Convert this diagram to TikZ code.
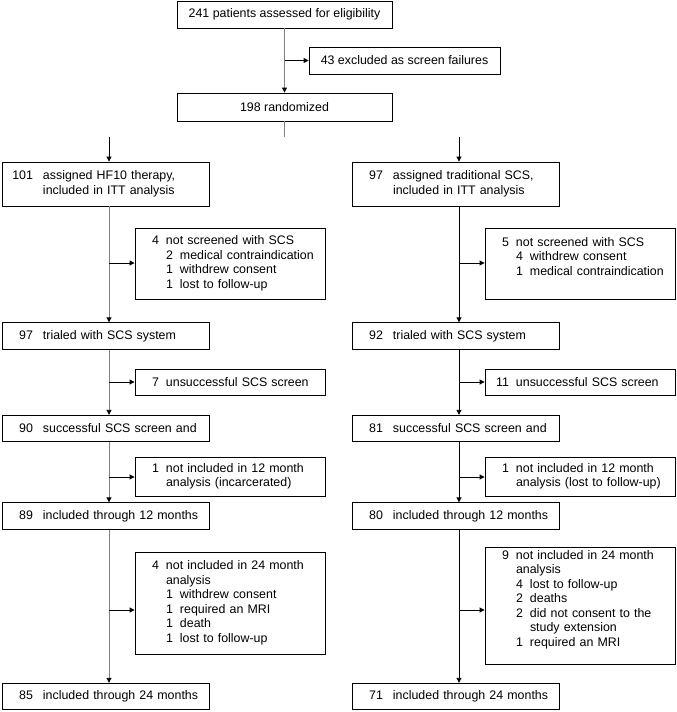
\documentclass[tikz,border=0pt]{standalone}
\usepackage{fontspec}
\setmainfont{Liberation Sans}
\usetikzlibrary{arrows.meta}
\definecolor{spinegray}{gray}{0.5}
\newcommand{\fsz}{\fontsize{12.4}{14.5}\selectfont}
\newcommand{\mnum}[1]{\makebox[26pt][r]{#1}\hspace{10pt}}
\newcommand{\snum}[1]{\makebox[19pt][r]{#1}\hspace{7pt}}
\newcommand{\sitm}[1]{\hspace*{26pt}\makebox[7pt][r]{#1}\hspace{7pt}}
\tikzset{
  box/.style={draw, line width=0.9pt, inner ysep=0pt, font=\fsz},
  cbox/.style={box, inner xsep=0pt, align=center},
  mainbox/.style={box, inner xsep=5pt, text width=197pt, align=left, minimum height=26.5pt},
  sidebox/.style={box, inner xsep=5pt, text width=180pt, align=left},
  arr/.style={line width=0.9pt, -{Triangle[length=5pt,width=5pt,color=black]}},
  gline/.style={line width=0.9pt, draw=spinegray},
  bline/.style={line width=0.9pt}
}
\begin{document}
\begin{tikzpicture}[x=1pt,y=-1pt]
\useasboundingbox (0,0) rectangle (677,712);
% top
\node[cbox, minimum width=215pt, minimum height=27pt] (A) at (284.5,14.5) {241 patients assessed for eligibility};
\node[cbox, minimum width=191pt, minimum height=27pt] (E) at (404.5,60.5) {43 excluded as screen failures};
\node[cbox, minimum width=215pt, minimum height=28pt] (R) at (284.5,107) {198 randomized};
\coordinate (stub) at (284.5,137);
\coordinate (sL) at (109,137);
\coordinate (sR) at (459,137);
% left column
\node[mainbox, minimum height=44pt] (L1) at (105.5,184) {\mnum{101}assigned HF10 therapy,\\\hspace*{36pt}included in ITT analysis};
\node[mainbox] (L2) at (105.5,336) {\mnum{97}trialed with SCS system};
\node[mainbox] (L3) at (105.5,428.5) {\mnum{90}successful SCS screen and};
\node[mainbox] (L4) at (105.5,516) {\mnum{89}included through 12 months};
\node[mainbox] (L5) at (105.5,696.5) {\mnum{85}included through 24 months};
\node[sidebox, minimum height=71pt] (LX1) at (230,263.5) {\snum{4}not screened with SCS\\\sitm{2}medical contraindication\\\sitm{1}withdrew consent\\\sitm{1}lost to follow-up};
\node[sidebox, minimum height=26pt] (LX2) at (230,382) {\snum{7}unsuccessful SCS screen};
\node[sidebox, minimum height=39pt] (LX3) at (230,476.5) {\snum{1}not included in 12 month\\\hspace*{26pt}analysis (incarcerated)};
\node[sidebox, minimum height=102pt] (LX4) at (230,603) {\snum{4}not included in 24 month\\\hspace*{26pt}analysis\\\sitm{1}withdrew consent\\\sitm{1}required an MRI\\\sitm{1}death\\\sitm{1}lost to follow-up};
% right column
\node[mainbox, minimum height=44pt] (R1) at (455.5,184) {\mnum{97}assigned traditional SCS,\\\hspace*{36pt}included in ITT analysis};
\node[mainbox] (R2) at (455.5,336) {\mnum{92}trialed with SCS system};
\node[mainbox] (R3) at (455.5,428.5) {\mnum{81}successful SCS screen and};
\node[mainbox] (R4) at (455.5,516) {\mnum{80}included through 12 months};
\node[mainbox] (R5) at (455.5,696.5) {\mnum{71}included through 24 months};
\node[sidebox, minimum height=71pt] (RX1) at (580,263.5) {\snum{5}not screened with SCS\\\sitm{4}withdrew consent\\\sitm{1}medical contraindication\\\mbox{}};
\node[sidebox, minimum height=26pt] (RX2) at (580,382) {\snum{11}unsuccessful SCS screen};
\node[sidebox, minimum height=39pt] (RX3) at (580,476.5) {\snum{1}not included in 12 month\\\hspace*{26pt}analysis (lost to follow-up)};
\node[sidebox, minimum height=117pt] (RX4) at (580,605.5) {\snum{9}not included in 24 month\\\hspace*{26pt}analysis\\\sitm{4}lost to follow-up\\\sitm{2}deaths\\\sitm{2}did not consent to the\\\hspace*{40pt}study extension\\\sitm{1}required an MRI\\\mbox{}};
% side arrow heights
\coordinate (y1) at (0,263);
\coordinate (y2) at (0,382);
\coordinate (y3) at (0,477);
\coordinate (y4) at (0,610);
% top connectors
\draw[gline,arr] (A.south) -- (R.north);
\draw[arr] (A.south |- E.west) -- (E.west);
\draw[gline] (R.south) -- (stub);
\draw[arr] (sL) -- (sL |- L1.north);
\draw[arr] (sR) -- (sR |- R1.north);
% left spine
\draw[gline,arr] (sL |- L1.south) -- (sL |- L2.north);
\draw[gline,arr] (sL |- L2.south) -- (sL |- L3.north);
\draw[gline,arr] (sL |- L3.south) -- (sL |- L4.north);
\draw[gline,arr] (sL |- L4.south) -- (sL |- L5.north);
\draw[arr] (sL |- y1) -- (LX1.west |- y1);
\draw[arr] (sL |- y2) -- (LX2.west |- y2);
\draw[arr] (sL |- y3) -- (LX3.west |- y3);
\draw[arr] (sL |- y4) -- (LX4.west |- y4);
% right spine
\draw[arr] (sR |- R1.south) -- (sR |- R2.north);
\draw[arr] (sR |- R2.south) -- (sR |- R3.north);
\draw[arr] (sR |- R3.south) -- (sR |- R4.north);
\draw[arr] (sR |- R4.south) -- (sR |- R5.north);
\draw[arr] (sR |- y1) -- (RX1.west |- y1);
\draw[arr] (sR |- y2) -- (RX2.west |- y2);
\draw[arr] (sR |- y3) -- (RX3.west |- y3);
\draw[arr] (sR |- y4) -- (RX4.west |- y4);
\end{tikzpicture}
\end{document}
